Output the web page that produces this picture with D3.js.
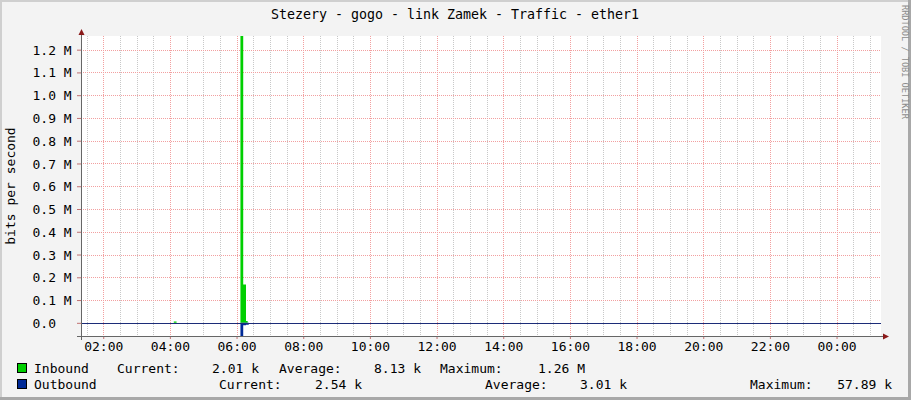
<html>
<head>
    <title>Stezery - gogo - link Zamek - Traffic - ether1</title>
    <style>
        body { margin: 0; background: #F3F3F3; }
        text { font-family: "DejaVu Sans Mono", monospace; }
    </style>
</head>
<body>
    <div id="grafico"></div>
    <script src="https://d3js.org/d3.v7.min.js"></script>
    <script>
        // Dados
        const xTickLabels = ["02:00", "04:00", "06:00", "08:00", "10:00", "12:00",
                             "14:00", "16:00", "18:00", "20:00", "22:00", "00:00"];
        const yTickValues = [0, 100000, 200000, 300000, 400000, 500000, 600000,
                             700000, 800000, 900000, 1000000, 1100000, 1200000];
        const yTickLabels = ["0.0", "0.1 M", "0.2 M", "0.3 M", "0.4 M", "0.5 M", "0.6 M",
                             "0.7 M", "0.8 M", "0.9 M", "1.0 M", "1.1 M", "1.2 M"];

        const inboundTimes  = ["1 01:20", "1 04:07", "1 04:12", "1 06:07", "1 06:12", "1 06:17", "1 06:20", "2 01:20"];
        const inboundValues = [0, 6000, 0, 1260000, 168000, 8000, 0, 0];
        const outboundTimes  = ["1 01:20", "1 06:07", "1 06:12", "1 06:17", "1 06:22", "2 01:20"];
        const outboundValues = [0, 57890, 11000, 8000, 0, 0];

        const legendNames   = ["Inbound", "Outbound"];
        const legendColors  = ["#00CF00", "#002A97"];
        const legendCurrent = ["2.01 k", "2.54 k"];
        const legendAverage = ["8.13 k", "3.01 k"];
        const legendMaximum = ["1.26 M", "57.89 k"];

        const W = 911, H = 400;
        const plot = {left: 81, right: 881, top: 36, bottom: 336};

        const parse = d3.timeParse("%d %H:%M");
        const start = parse("1 01:20"), end = parse("2 01:20");

        const svg = d3.select("#grafico").append("svg")
            .attr("width", W)
            .attr("height", H);

        // Fundo e moldura
        svg.append("rect").attr("width", W).attr("height", H).attr("fill", "#F3F3F3");
        svg.append("rect").attr("x", 0).attr("y", 0).attr("width", W).attr("height", 2).attr("fill", "#CFCFCF");
        svg.append("rect").attr("x", 0).attr("y", 0).attr("width", 2).attr("height", H).attr("fill", "#CFCFCF");
        svg.append("rect").attr("x", W - 3).attr("y", 0).attr("width", 3).attr("height", H).attr("fill", "#A8A8A8");
        svg.append("rect").attr("x", 0).attr("y", H - 3).attr("width", W).attr("height", 3).attr("fill", "#A8A8A8");

        svg.append("rect")
            .attr("x", plot.left).attr("y", plot.top)
            .attr("width", plot.right - plot.left).attr("height", plot.bottom - plot.top)
            .attr("fill", "#FFFFFF");

        // Escalas
        const x = d3.scaleTime().domain([start, end]).range([plot.left, plot.right]);
        const y = d3.scaleLinear().domain([-57890, 1260000]).range([plot.bottom, plot.top]);

        const majorTimes = xTickLabels.map((s, i) => {
            const t = parse("1 " + s);
            return t < start ? d3.timeDay.offset(t, 1) : t;
        });
        const minorTimes = d3.timeMinute.every(30).range(start, end);

        // Grade
        const grid = svg.append("g").attr("shape-rendering", "crispEdges");
        grid.selectAll("line.minor")
            .data(minorTimes)
            .join("line")
              .attr("x1", d => Math.round(x(d)) + 0.5).attr("x2", d => Math.round(x(d)) + 0.5)
              .attr("y1", plot.top).attr("y2", plot.bottom)
              .attr("stroke", "#C8C8C8")
              .attr("stroke-dasharray", "1,1");
        grid.selectAll("line.major")
            .data(majorTimes)
            .join("line")
              .attr("x1", d => Math.round(x(d)) + 0.5).attr("x2", d => Math.round(x(d)) + 0.5)
              .attr("y1", plot.top).attr("y2", plot.bottom)
              .attr("stroke", "#F2A0A0")
              .attr("stroke-dasharray", "1,1");
        grid.selectAll("line.hor")
            .data(yTickValues)
            .join("line")
              .attr("x1", plot.left).attr("x2", plot.right)
              .attr("y1", d => Math.round(y(d)) + 0.5).attr("y2", d => Math.round(y(d)) + 0.5)
              .attr("stroke", "#F2A0A0")
              .attr("stroke-dasharray", "1,1");

        // Áreas
        const toRows = (times, values) => times.map((t, i) => ({t: parse(t), v: values[i]}));
        const inbound = toRows(inboundTimes, inboundValues);
        const outbound = toRows(outboundTimes, outboundValues);

        const area = d3.area()
            .curve(d3.curveStepAfter)
            .x(d => x(d.t))
            .y0(y(0));

        svg.append("path")
            .datum(inbound)
            .attr("fill", legendColors[0])
            .attr("d", area.y1(d => y(d.v)));

        svg.append("path")
            .datum(outbound)
            .attr("fill", legendColors[1])
            .attr("d", area.y1(d => y(-d.v)));

        // Linha do zero
        svg.append("line")
            .attr("x1", plot.left).attr("x2", plot.right)
            .attr("y1", Math.round(y(0)) + 0.5).attr("y2", Math.round(y(0)) + 0.5)
            .attr("stroke", "#1C2C78")
            .attr("shape-rendering", "crispEdges");

        // Eixo Y
        const yAxis = svg.append("g")
            .attr("transform", `translate(${plot.left},0)`)
            .call(d3.axisLeft(y).tickValues(yTickValues).tickSize(4).tickFormat((d, i) => yTickLabels[i]));
        yAxis.select(".domain").remove();
        yAxis.selectAll(".tick line").attr("stroke", "#C07070");
        yAxis.selectAll(".tick text")
            .attr("text-anchor", "start")
            .attr("x", 32.5 - plot.left)
            .attr("dy", "0.35em")
            .style("font-size", "13px")
            .style("font-family", "'DejaVu Sans Mono', monospace")
            .attr("fill", "#000");

        // Eixo X
        const xAxis = svg.append("g")
            .attr("transform", `translate(0,${plot.bottom})`)
            .call(d3.axisBottom(x).tickValues(majorTimes).tickSize(3).tickPadding(4)
                .tickFormat((d, i) => xTickLabels[i]));
        xAxis.select(".domain").remove();
        xAxis.selectAll(".tick line").attr("stroke", "#C07070");
        xAxis.selectAll(".tick text")
            .attr("y", 15)
            .attr("dy", 0)
            .style("font-size", "13px")
            .style("font-family", "'DejaVu Sans Mono', monospace")
            .attr("fill", "#000");

        // Linhas dos eixos e setas
        svg.append("line")
            .attr("x1", plot.left + 0.5).attr("x2", plot.left + 0.5)
            .attr("y1", 31).attr("y2", plot.bottom + 4)
            .attr("stroke", "#666").attr("shape-rendering", "crispEdges");
        svg.append("line")
            .attr("x1", plot.left - 4).attr("x2", plot.right + 2)
            .attr("y1", plot.bottom + 0.5).attr("y2", plot.bottom + 0.5)
            .attr("stroke", "#666").attr("shape-rendering", "crispEdges");
        svg.append("path")
            .attr("d", `M${plot.left - 2.5},35 L${plot.left + 0.5},29 L${plot.left + 3.5},35 Z`)
            .attr("fill", "#8B1A1A");
        svg.append("path")
            .attr("d", `M${plot.right + 2},${plot.bottom - 2.5} L${plot.right + 8},${plot.bottom + 0.5} L${plot.right + 2},${plot.bottom + 3.5} Z`)
            .attr("fill", "#8B1A1A");

        // Título
        svg.append("text")
            .attr("x", 455)
            .attr("y", 19)
            .attr("text-anchor", "middle")
            .style("font-size", "13.3px")
            .attr("fill", "#000")
            .text("Stezery - gogo - link Zamek - Traffic - ether1");

        // Legenda do eixo Y
        svg.append("text")
            .attr("transform", "translate(15,186) rotate(-90)")
            .attr("text-anchor", "middle")
            .style("font-size", "13px")
            .attr("fill", "#000")
            .text("bits per second");

        // Marca d'água
        svg.append("text")
            .attr("transform", "translate(902,5) rotate(90)")
            .attr("text-anchor", "start")
            .style("font-size", "8.6px")
            .attr("fill", "#8C8C8C")
            .text("RRDTOOL / TOBI OETIKER");

        // Legenda
        const rows = [
            {y: 373, cur: 117, curEnd: 259, avg: 279, avgEnd: 421, max: 440, maxEnd: 585},
            {y: 389, cur: 219, curEnd: 362, avg: 485, avgEnd: 627, max: 750, maxEnd: 892}
        ];
        const legend = svg.append("g").style("font-size", "13px").attr("fill", "#000");
        rows.forEach((r, i) => {
            legend.append("rect")
                .attr("x", 17.5).attr("y", r.y - 9.5)
                .attr("width", 9).attr("height", 9)
                .attr("fill", legendColors[i])
                .attr("stroke", "#000");
            legend.append("text").attr("x", 34).attr("y", r.y).text(legendNames[i]);
            legend.append("text").attr("x", r.cur).attr("y", r.y).text("Current:");
            legend.append("text").attr("x", r.curEnd).attr("y", r.y).attr("text-anchor", "end").text(legendCurrent[i]);
            legend.append("text").attr("x", r.avg).attr("y", r.y).text("Average:");
            legend.append("text").attr("x", r.avgEnd).attr("y", r.y).attr("text-anchor", "end").text(legendAverage[i]);
            legend.append("text").attr("x", r.max).attr("y", r.y).text("Maximum:");
            legend.append("text").attr("x", r.maxEnd).attr("y", r.y).attr("text-anchor", "end").text(legendMaximum[i]);
        });
    </script>
</body>
</html>
